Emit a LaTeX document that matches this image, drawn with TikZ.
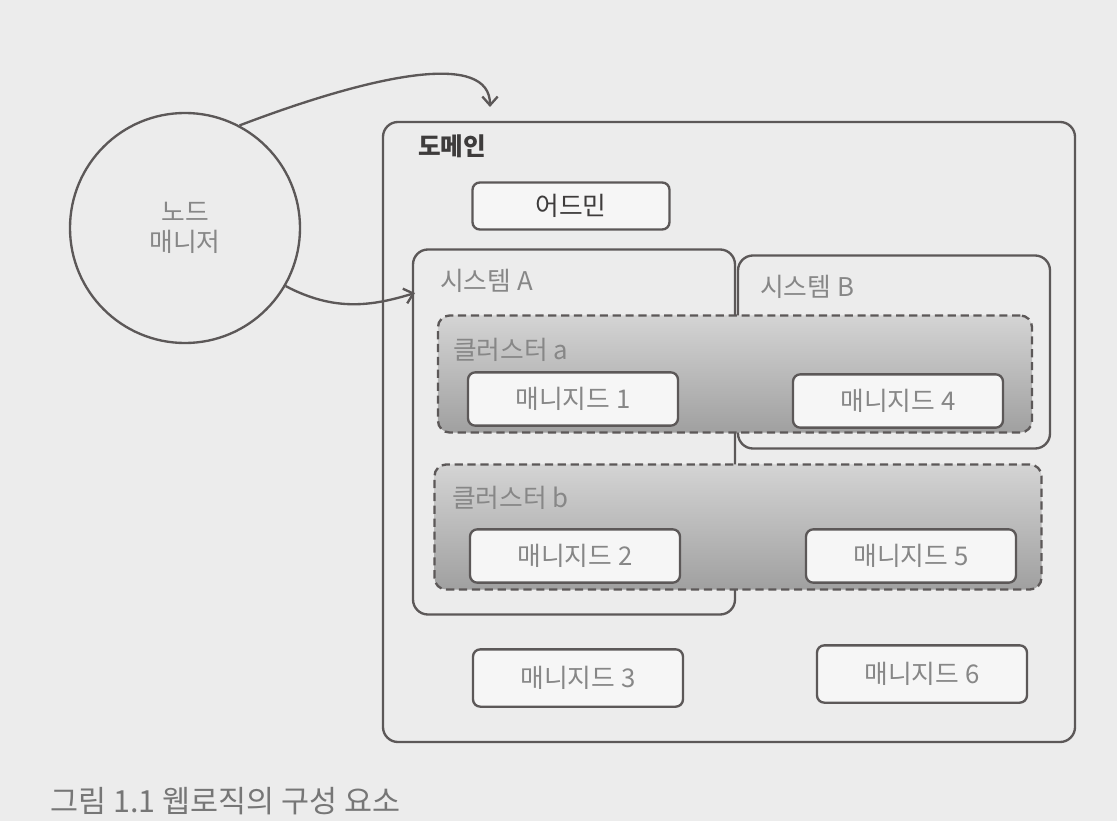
\documentclass[tikz,border=0pt]{standalone}
\usepackage{fontspec}
\usepackage{xcolor}
\usetikzlibrary{arrows.meta,positioning}
\newfontfamily\kr{Noto Sans CJK KR}
\definecolor{page}{RGB}{236,236,236}
\definecolor{ink}{RGB}{92,88,88}
\definecolor{soft}{RGB}{135,135,135}
\definecolor{deep}{RGB}{62,60,60}
\definecolor{capgray}{RGB}{118,118,118}
\definecolor{shadetop}{RGB}{212,212,212}
\definecolor{shadebot}{RGB}{160,160,160}

\begin{document}
\begin{tikzpicture}[
  x=0.03cm, y=-0.03cm,
  font=\kr\fontsize{22}{26}\selectfont,
  >={Straight Barb[length=2.6mm,width=4.6mm]},
  frame/.style={draw=ink, line width=2pt, rounded corners=0.45cm},
  mbox/.style={draw=ink, line width=2pt, rounded corners=0.22cm, fill=white!55!page, text=soft, minimum width=6.3cm, minimum height=1.6cm},
  cluster/.style={draw=ink, line width=2pt, dash pattern=on 7pt off 4pt, rounded corners=0.35cm, top color=shadetop, bottom color=shadebot},
  lbl/.style={anchor=west, text=soft, inner sep=0pt},
  flow/.style={->, line width=2pt, draw=ink}
]
\useasboundingbox[fill=page] (0,0) rectangle (1117,821);

% Node manager
\node[circle, draw=ink, line width=2pt, minimum size=6.9cm, align=center, text=soft] (mgr) at (185,228) {노드\\매니저};

% Domain
\node[frame, minimum width=20.76cm, minimum height=18.6cm] (dom) at (729,432) {};
\node[lbl, text=deep, font=\kr\bfseries\fontsize{21}{25}\selectfont] (domlbl) at (418,146) {도메인};
\node[mbox, text=deep, minimum width=5.91cm, minimum height=1.41cm] (admin) at (571,206) {어드민};

% Systems
\node[frame, minimum width=9.66cm, minimum height=10.95cm] (sysA) at (574,432) {};
\node[lbl] (sysAlbl) at (440,281) {시스템 A};
\node[frame, minimum width=9.36cm, minimum height=5.79cm] (sysB) at (894,352) {};
\node[lbl] (sysBlbl) at (760,287) {시스템 B};

% Clusters
\node[cluster, minimum width=17.82cm, minimum height=3.51cm] (clua) at (735,374) {};
\node[lbl] (clualbl) at (453,350) {클러스터 a};
\node[mbox] (m1) at (573,399) {매니지드 1};
\node[mbox] (m4) at (898,401) {매니지드 4};

\node[cluster, minimum width=18.21cm, minimum height=3.75cm] (club) at (738,527) {};
\node[lbl] (clublbl) at (452,498) {클러스터 b};
\node[mbox] (m2) at (575,556) {매니지드 2};
\node[mbox] (m5) at (911,556) {매니지드 5};

% Standalone managed
\node[mbox, minimum height=1.72cm] (m3) at (578,678) {매니지드 3};
\node[mbox, minimum height=1.72cm] (m6) at (922,674) {매니지드 6};

% Caption
\node[lbl, text=capgray, font=\kr\fontsize{26}{30}\selectfont] (cap) at (50,801) {그림 1.1 웹로직의 구성 요소};

% Arrows
\coordinate (domin) at (490,107);
\coordinate (sysin) at (415,293);
\draw[flow] (mgr.62) .. controls (380,72) and (490,52) .. (domin);
\draw[flow] (mgr.-30) .. controls (335,312) and (372,306) .. (sysin);

\end{tikzpicture}
\end{document}
